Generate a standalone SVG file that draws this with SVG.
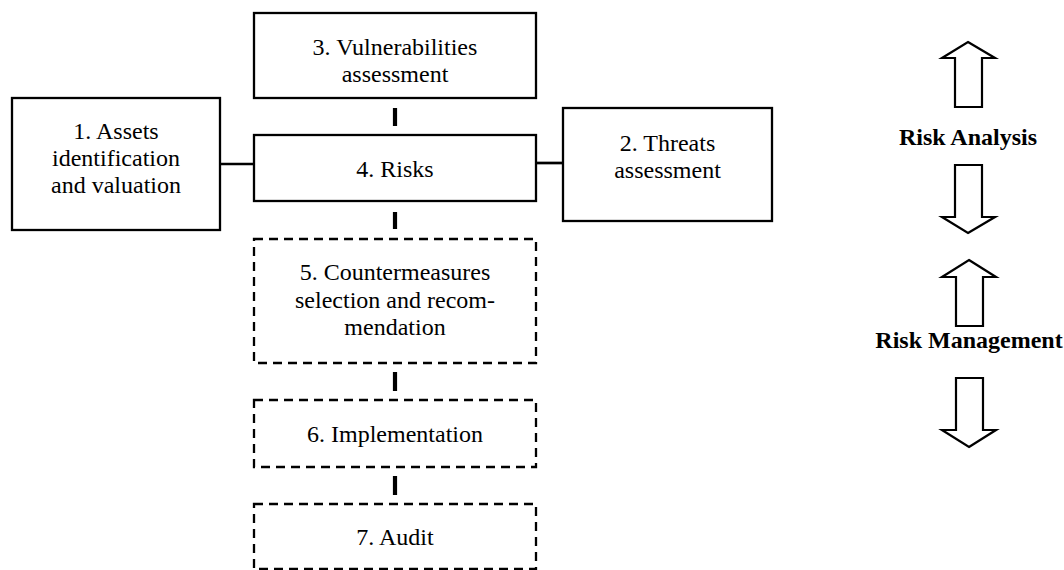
<svg xmlns="http://www.w3.org/2000/svg" width="1064" height="570" viewBox="0 0 1064 570">
<style>
.box{fill:#fff;stroke:#000;stroke-width:2.3}
.dbox{fill:#fff;stroke:#000;stroke-width:2.3;stroke-dasharray:9 6}
.t{font-family:"Liberation Serif","Times New Roman",serif;font-size:24px;fill:#000;text-anchor:middle}
.b{font-weight:bold}
.c{stroke:#000;fill:none}
.arr{fill:#fff;stroke:#000;stroke-width:2.2;stroke-linejoin:miter}
</style>
<rect width="1064" height="570" fill="#fff"/>
<g id="connectors">
<line class="c" x1="220" y1="164" x2="254" y2="164" stroke-width="2.7"/>
<line class="c" x1="536" y1="163" x2="563" y2="163" stroke-width="2.7"/>
<line class="c" x1="395" y1="108" x2="395" y2="126" stroke-width="4.2"/>
<line class="c" x1="395" y1="212" x2="395" y2="229" stroke-width="4.2"/>
<line class="c" x1="395" y1="372" x2="395" y2="391" stroke-width="4.2"/>
<line class="c" x1="395" y1="476" x2="395" y2="495" stroke-width="4.2"/>
</g>
<g id="node1">
<rect class="box" x="12" y="98" width="208" height="132"/>
<text class="t" x="116" y="139">1. Assets</text>
<text class="t" x="116" y="166">identification</text>
<text class="t" x="116" y="193">and valuation</text>
</g>
<g id="node2">
<rect class="box" x="563" y="108" width="209" height="113"/>
<text class="t" x="667.5" y="151">2. Threats</text>
<text class="t" x="667.5" y="178">assessment</text>
</g>
<g id="node3">
<rect class="box" x="254" y="13" width="282" height="85"/>
<text class="t" x="395" y="55">3. Vulnerabilities</text>
<text class="t" x="395" y="82">assessment</text>
</g>
<g id="node4">
<rect class="box" x="254" y="135" width="282" height="66"/>
<text class="t" x="395" y="177">4. Risks</text>
</g>
<g id="node5">
<rect class="dbox" x="254" y="239" width="282" height="124"/>
<text class="t" x="395" y="280">5. Countermeasures</text>
<text class="t" x="395" y="307.5">selection and recom-</text>
<text class="t" x="395" y="335">mendation</text>
</g>
<g id="node6">
<rect class="dbox" x="254" y="400" width="282" height="67"/>
<text class="t" x="395" y="442">6. Implementation</text>
</g>
<g id="node7">
<rect class="dbox" x="254" y="504" width="282" height="65"/>
<text class="t" x="395" y="545">7. Audit</text>
</g>
<g id="risk-analysis">
<polygon class="arr" points="968,42 995,58 982,58 982,107 955,107 955,58 942,58"/>
<text class="t b" x="968" y="145">Risk Analysis</text>
<polygon class="arr" points="968,233 995,217 982,217 982,165 955,165 955,217 942,217"/>
</g>
<g id="risk-management">
<polygon class="arr" points="969,260 996,277 983,277 983,326 956,326 956,277 942,277"/>
<text class="t b" x="969" y="348">Risk Management</text>
<polygon class="arr" points="969,447 996,430 983,430 983,378 956,378 956,430 942,430"/>
</g>
</svg>
